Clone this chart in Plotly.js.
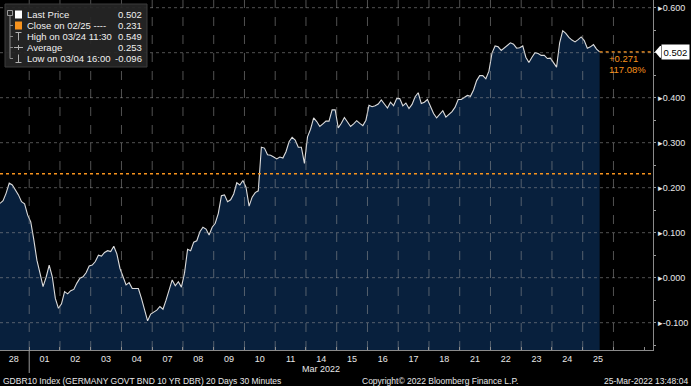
<!DOCTYPE html>
<html><head><meta charset="utf-8">
<script src="https://cdn.plot.ly/plotly-3.0.1.min.js"></script>
<style>html,body{margin:0;padding:0;background:#000;} #chart{width:691px;height:386px;}</style>
</head><body><div id="chart"></div>
<script>
// ---- data ----
const dayLabels = ['28','01','02','03','04','07','08','09','10','11','14','15','16','17','18','21','22','23','24','25'];
const monthLabel = 'Mar 2022';
const pointsPerDay = 10;
const yields = [
  0.165, 0.171, 0.188, 0.210, 0.206, 0.195, 0.184, 0.169, 0.164, 0.139,
  0.124, 0.084, 0.039, 0.010, -0.020, 0.001, 0.028, 0.002, -0.046, -0.068,
  -0.058, -0.031, -0.036, -0.029, -0.026, -0.012, -0.001, 0.002, 0.011, 0.026,
  0.028, 0.036, 0.050, 0.048, 0.056, 0.060, 0.058, 0.070, 0.053, 0.021,
  0.002, -0.016, -0.011, -0.024, -0.024, -0.024, -0.046, -0.073, -0.096, -0.081,
  -0.076, -0.072, -0.064, -0.070, -0.050, -0.027, -0.005, -0.018, -0.009, -0.021,
  0.010, 0.063, 0.060, 0.079, 0.082, 0.102, 0.112, 0.108, 0.095, 0.112,
  0.121, 0.143, 0.182, 0.184, 0.169, 0.173, 0.186, 0.211, 0.206, 0.216,
  0.201, 0.159, 0.179, 0.189, 0.193, 0.290, 0.288, 0.273, 0.272, 0.268,
  0.264, 0.268, 0.266, 0.280, 0.302, 0.312, 0.306, 0.290, 0.290, 0.254,
  0.313, 0.330, 0.355, 0.347, 0.336, 0.342, 0.348, 0.348, 0.373, 0.373,
  0.333, 0.343, 0.356, 0.346, 0.336, 0.342, 0.349, 0.343, 0.338, 0.350,
  0.383, 0.380, 0.382, 0.386, 0.395, 0.386, 0.377, 0.390, 0.382, 0.398,
  0.398, 0.382, 0.388, 0.376, 0.385, 0.402, 0.411, 0.387, 0.390, 0.396,
  0.382, 0.365, 0.355, 0.364, 0.371, 0.357, 0.363, 0.369, 0.379, 0.396,
  0.396, 0.400, 0.405, 0.403, 0.417, 0.438, 0.449, 0.449, 0.442, 0.459,
  0.499, 0.515, 0.513, 0.505, 0.510, 0.516, 0.522, 0.519, 0.510, 0.511,
  0.515, 0.490, 0.478, 0.490, 0.500, 0.498, 0.494, 0.494, 0.487, 0.488,
  0.478, 0.468, 0.522, 0.549, 0.543, 0.534, 0.528, 0.524, 0.529, 0.535,
  0.527, 0.510, 0.513, 0.518, 0.508, 0.502
];
const closeLevel = 0.231;
const lastPrice = 0.502;
const changeText = '+0.271';
const changePctText = '117.08%';
const yTickVals = [0.6, 0.4, 0.3, 0.2, 0.1, 0.0, -0.1];
const gridLevels = [0.6, 0.5, 0.4, 0.3, 0.2, 0.1, 0.0, -0.1];
const legendLabels = ['Last Price', 'Close on 02/25 ----', 'High on 03/24 11:30', 'Average', 'Low on 03/04 16:00'];
const legendValues = ['0.502', '0.231', '0.549', '0.253', '-0.096'];
const footerLeft = 'GDBR10 Index (GERMANY GOVT BND 10 YR DBR) 20 Days 30 Minutes';
const footerMid = 'Copyright\u00A9 2022 Bloomberg Finance L.P.';
const footerRight = '25-Mar-2022 13:48:04';

// ---- geometry ----
const W = 691, H = 386;
const M = {l: 0, r: 38, t: 0, b: 36};
const PW = W - M.l - M.r, PH = H - M.t - M.b;
const yRange = [-0.1607, 0.6171];
const xRange = [-0.45, -0.45 + PW / 30.75];
const px = x => x / PW;
const py = y => 1 - y / PH;
const FONT = 'Liberation Sans, Arial, sans-serif';
const TXT = '#e8e8e8';
const ORANGE = '#f7931e';

const xs = yields.map((v, i) => Math.floor(i / pointsPerDay) - 0.5 + ((i % pointsPerDay) + 0.5) / pointsPerDay);
const lastX = xs[xs.length - 1];

const traces = [
  {x: xs, y: xs.map(() => yRange[0]), mode: 'lines', line: {width: 0}, hoverinfo: 'skip', showlegend: false},
  {x: xs, y: yields, mode: 'lines', fill: 'tonexty', fillcolor: '#08203d',
   line: {color: '#dcdcdc', width: 1.1}, showlegend: false}
];

const shapes = [];
const GRID = 'rgba(150,150,150,0.55)';
gridLevels.forEach(v => shapes.push({type: 'line', xref: 'paper', x0: 0, x1: 1, yref: 'y', y0: v, y1: v,
  line: {color: GRID, width: 1, dash: 'dot'}, layer: 'above'}));
for (let d = 0; d < dayLabels.length; d++) {
  shapes.push({type: 'line', xref: 'x', x0: d + 0.5, x1: d + 0.5, yref: 'paper', y0: 0, y1: 1,
    line: {color: GRID, width: 1, dash: 'dash'}, layer: 'above'});
}
// month separator
shapes.push({type: 'line', xref: 'x', x0: 0.5, x1: 0.5, yref: 'paper', y0: -23 / PH, y1: 0,
  line: {color: '#9a9a9a', width: 1}, layer: 'above'});
// close line
shapes.push({type: 'line', xref: 'paper', x0: 0, x1: 1, yref: 'y', y0: closeLevel, y1: closeLevel,
  line: {color: ORANGE, width: 1.5, dash: 'dot'}, layer: 'above'});
// last price line
shapes.push({type: 'line', xref: 'x', x0: lastX, x1: xRange[1], yref: 'y', y0: lastPrice, y1: lastPrice,
  line: {color: ORANGE, width: 1.2, dash: 'dot'}, layer: 'above'});
// last price tag arrow
shapes.push({type: 'path', xref: 'paper', yref: 'y',
  path: `M ${px(655)},${lastPrice} L ${px(660)},${lastPrice + 0.013} L ${px(661)},${lastPrice + 0.013} L ${px(661)},${lastPrice - 0.013} L ${px(660)},${lastPrice - 0.013} Z`,
  fillcolor: '#ffffff', line: {width: 0}, layer: 'above'});

// legend box
shapes.push({type: 'rect', xref: 'paper', yref: 'paper', x0: px(5), x1: px(147), y0: py(67), y1: py(4),
  fillcolor: 'rgba(38,38,38,0.92)', line: {color: 'rgba(60,60,60,1)', width: 1}, layer: 'above'});
const rowY = [14.5, 25.5, 36.5, 47.5, 58.5];
// tree
shapes.push({type: 'rect', xref: 'paper', yref: 'paper', x0: px(7.5), x1: px(12.5), y0: py(15.5), y1: py(10.5),
  line: {color: '#9a9a9a', width: 1}, layer: 'above'});
shapes.push({type: 'line', xref: 'paper', yref: 'paper', x0: px(10), x1: px(10), y0: py(16), y1: py(rowY[4]),
  line: {color: '#8a8a8a', width: 1}, layer: 'above'});
rowY.slice(1).forEach(y => shapes.push({type: 'line', xref: 'paper', yref: 'paper', x0: px(10), x1: px(13), y0: py(y), y1: py(y),
  line: {color: '#8a8a8a', width: 1}, layer: 'above'}));
// icons
shapes.push({type: 'rect', xref: 'paper', yref: 'paper', x0: px(15), x1: px(22), y0: py(rowY[0] + 4), y1: py(rowY[0] - 4),
  fillcolor: '#ffffff', line: {width: 0}, layer: 'above'});
shapes.push({type: 'rect', xref: 'paper', yref: 'paper', x0: px(15), x1: px(22), y0: py(rowY[1] + 4), y1: py(rowY[1] - 4),
  fillcolor: ORANGE, line: {width: 0}, layer: 'above'});
const ICON = '#b0b0b0';
shapes.push({type: 'line', xref: 'paper', yref: 'paper', x0: px(15.5), x1: px(21.5), y0: py(rowY[2] - 4), y1: py(rowY[2] - 4), line: {color: ICON, width: 1}, layer: 'above'});
shapes.push({type: 'line', xref: 'paper', yref: 'paper', x0: px(18.5), x1: px(18.5), y0: py(rowY[2] - 4), y1: py(rowY[2] + 4), line: {color: ICON, width: 1}, layer: 'above'});
shapes.push({type: 'line', xref: 'paper', yref: 'paper', x0: px(14), x1: px(23), y0: py(rowY[3]), y1: py(rowY[3]), line: {color: ICON, width: 1}, layer: 'above'});
shapes.push({type: 'line', xref: 'paper', yref: 'paper', x0: px(18.5), x1: px(18.5), y0: py(rowY[3] - 2.5), y1: py(rowY[3] + 2.5), line: {color: ICON, width: 1}, layer: 'above'});
shapes.push({type: 'line', xref: 'paper', yref: 'paper', x0: px(15.5), x1: px(21.5), y0: py(rowY[4] + 4), y1: py(rowY[4] + 4), line: {color: ICON, width: 1}, layer: 'above'});
shapes.push({type: 'line', xref: 'paper', yref: 'paper', x0: px(18.5), x1: px(18.5), y0: py(rowY[4] - 4), y1: py(rowY[4] + 4), line: {color: ICON, width: 1}, layer: 'above'});

const annotations = [];
legendLabels.forEach((t, i) => {
  annotations.push({xref: 'paper', yref: 'paper', x: px(25), y: py(rowY[i]), xanchor: 'left', yanchor: 'middle',
    text: t, showarrow: false, font: {family: FONT, size: 9.5, color: '#f0f0f0'}});
  annotations.push({xref: 'paper', yref: 'paper', x: px(144), y: py(rowY[i]), xanchor: 'right', yanchor: 'middle',
    text: legendValues[i], showarrow: false, font: {family: FONT, size: 9.5, color: '#f0f0f0'}});
});
annotations.push({xref: 'paper', yref: 'y', x: px(661), y: lastPrice, xanchor: 'left', yanchor: 'middle',
  text: lastPrice.toFixed(3), showarrow: false, bgcolor: '#ffffff', borderpad: 1.5,
  font: {family: FONT, size: 9.5, color: '#000000'}});
annotations.push({xref: 'paper', yref: 'paper', x: px(607), y: py(58.5), xanchor: 'left', yanchor: 'middle',
  text: changeText, showarrow: false, font: {family: FONT, size: 9.5, color: ORANGE}});
annotations.push({xref: 'paper', yref: 'paper', x: px(607), y: py(69.5), xanchor: 'left', yanchor: 'middle',
  text: changePctText, showarrow: false, font: {family: FONT, size: 9.5, color: ORANGE}});
annotations.push({xref: 'x', yref: 'paper', x: 10, y: py(369), xanchor: 'center', yanchor: 'middle',
  text: monthLabel, showarrow: false, font: {family: FONT, size: 9, color: TXT}});
annotations.push({xref: 'paper', yref: 'paper', x: px(1), y: py(380.5), xanchor: 'left', yanchor: 'middle',
  text: footerLeft, showarrow: false, font: {family: FONT, size: 8.5, color: TXT}});
annotations.push({xref: 'paper', yref: 'paper', x: px(440), y: py(380.5), xanchor: 'center', yanchor: 'middle',
  text: footerMid, showarrow: false, font: {family: FONT, size: 8.5, color: TXT}});
annotations.push({xref: 'paper', yref: 'paper', x: px(690), y: py(380.5), xanchor: 'right', yanchor: 'middle',
  text: footerRight, showarrow: false, font: {family: FONT, size: 8.5, color: TXT}});

const layout = {
  width: W, height: H, margin: M,
  paper_bgcolor: '#000000', plot_bgcolor: '#000000',
  showlegend: false,
  xaxis: {
    range: xRange, showgrid: false, zeroline: false, fixedrange: true,
    tickmode: 'array', tickvals: dayLabels.map((d, i) => i), ticktext: dayLabels,
    ticks: '', tickfont: {family: FONT, size: 9, color: TXT},
    showline: true, linecolor: '#8a8a8a', linewidth: 1,
    minor: {tick0: 0.5, dtick: 1, ticks: 'inside', ticklen: 3, tickcolor: '#8a8a8a', showgrid: false}
  },
  yaxis: {
    range: yRange, side: 'right', showgrid: false, zeroline: false, fixedrange: true,
    tickmode: 'array', tickvals: yTickVals, ticktext: yTickVals.map(v => '\u25B8' + v.toFixed(3)),
    ticks: 'outside', ticklen: 2, tickcolor: '#9a9a9a',
    tickfont: {family: FONT, size: 9, color: TXT},
    showline: true, linecolor: '#8a8a8a', linewidth: 1,
    minor: {dtick: 0.05, ticks: 'outside', ticklen: 2, tickcolor: '#9a9a9a', showgrid: false}
  },
  shapes: shapes,
  annotations: annotations
};

Plotly.newPlot('chart', traces, layout, {displayModeBar: false, staticPlot: true});
</script>
</body></html>
